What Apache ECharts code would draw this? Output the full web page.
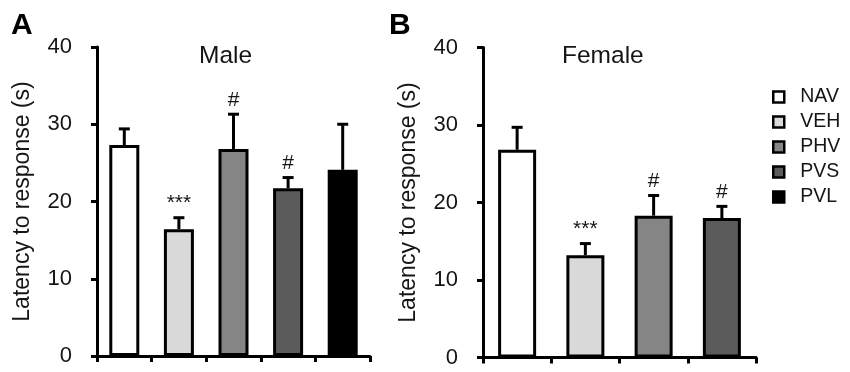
<!DOCTYPE html>
<html>
<head>
<meta charset="utf-8">
<script src="https://cdn.jsdelivr.net/npm/echarts@6/dist/echarts.min.js"></script>
<style>
html,body{margin:0;padding:0;background:#fff;}
#chart{width:850px;height:372px;}
</style>
</head>
<body>
<div id="chart"></div>
<script>
// ---- data ----
const groups = ['NAV', 'VEH', 'PHV', 'PVS', 'PVL'];
const maleCategories = ['NAV', 'VEH', 'PHV', 'PVS', 'PVL'];
const maleMean = [27.3, 16.4, 26.8, 21.7, 24.1];
const maleSem = [2.1, 1.5, 4.5, 1.4, 5.9];
const maleMarks = ['', '***', '#', '#', ''];
const femaleCategories = ['NAV', 'VEH', 'PHV', 'PVS'];
const femaleMean = [26.8, 13.2, 18.3, 18.0];
const femaleSem = [2.9, 1.5, 2.6, 1.5];
const femaleMarks = ['', '***', '#', '#'];
const yMin = 0, yMax = 40, yStep = 10;
const panelTitles = ['Male', 'Female'];
const panelLetters = ['A', 'B'];
const yName = 'Latency to response (s)';

// ---- style ----
const palette = {NAV: '#ffffff', VEH: '#d9d9d9', PHV: '#858585', PVS: '#5b5b5b', PVL: '#000000'};
const FONT = '"Liberation Sans", Arial, sans-serif';
const TXT = '#151515';

const chart = echarts.init(document.getElementById('chart'), null, {renderer: 'canvas'});

const panels = [
  {cats: maleCategories, mean: maleMean, sem: maleSem, marks: maleMarks, barWidth: 30},
  {cats: femaleCategories, mean: femaleMean, sem: femaleSem, marks: femaleMarks, barWidth: 38}
];

const grids = [
  {left: 97, top: 47, width: 273, height: 309},
  {left: 483, top: 47.5, width: 273, height: 310}
];

const xAxes = panels.map((p, i) => ({
  type: 'category', gridIndex: i, data: p.cats,
  axisLine: {lineStyle: {color: '#000', width: 3}},
  axisTick: {show: true, length: 6, lineStyle: {color: '#000', width: 3}},
  axisLabel: {show: false},
  splitLine: {show: false}
}));

const yAxes = panels.map((p, i) => ({
  type: 'value', gridIndex: i, min: yMin, max: yMax, interval: yStep,
  name: yName, nameLocation: 'middle', nameGap: 63,
  nameTextStyle: {fontFamily: FONT, fontSize: 23, color: TXT},
  axisLine: {show: true, lineStyle: {color: '#000', width: 3}},
  axisTick: {show: true, length: 6, lineStyle: {color: '#000', width: 3}},
  axisLabel: {fontFamily: FONT, fontSize: 22, color: TXT, margin: 25},
  splitLine: {show: false}
}));

const series = [];
panels.forEach((p, pi) => {
  p.cats.forEach((g, gi) => {
    series.push({
      type: 'bar', name: g, xAxisIndex: pi, yAxisIndex: pi,
      data: p.cats.map((c, i) => i === gi ? p.mean[i] : '-'),
      barWidth: p.barWidth, barGap: '-100%',
      itemStyle: {color: palette[g], borderColor: '#000', borderWidth: 3},
      emphasis: {disabled: true},
      z: 2
    });
  });
  series.push({
    type: 'custom', name: 'err' + pi, xAxisIndex: pi, yAxisIndex: pi,
    data: p.cats.map((c, i) => [i, p.mean[i], p.mean[i] + p.sem[i], p.marks[i]]),
    encode: {x: 0, y: [1, 2]},
    z: 3,
    renderItem: function (params, api) {
      const i = api.value(0);
      const lo = api.coord([i, api.value(1)]);
      const hi = api.coord([i, api.value(2)]);
      const mark = p.marks[i];
      const capHalf = 5.5;
      const children = [
        {type: 'line', shape: {x1: lo[0], y1: lo[1], x2: hi[0], y2: hi[1]}, style: {stroke: '#000', lineWidth: 3}},
        {type: 'line', shape: {x1: hi[0] - capHalf, y1: hi[1], x2: hi[0] + capHalf, y2: hi[1]}, style: {stroke: '#000', lineWidth: 3}}
      ];
      if (mark) {
        children.push({type: 'text', style: {text: mark, x: hi[0], y: hi[1] - 4, align: 'center', verticalAlign: 'bottom',
          font: '21px ' + FONT, fill: TXT}});
      }
      return {type: 'group', children: children};
    }
  });
});

const option = {
  backgroundColor: '#fff',
  animation: false,
  title: [
    {text: panelLetters[0], left: 11, top: 11, padding: 0, textStyle: {fontFamily: FONT, fontSize: 30, fontWeight: 'bold', color: '#000'}},
    {text: panelLetters[1], left: 389, top: 11, padding: 0, textStyle: {fontFamily: FONT, fontSize: 30, fontWeight: 'bold', color: '#000'}},
    {text: panelTitles[0], left: 199, top: 44, padding: 0, textStyle: {fontFamily: FONT, fontSize: 24.5, fontWeight: 'normal', color: TXT}},
    {text: panelTitles[1], left: 562, top: 44, padding: 0, textStyle: {fontFamily: FONT, fontSize: 24.5, fontWeight: 'normal', color: TXT}}
  ],
  legend: {
    data: groups, orient: 'vertical', left: 772, top: 87, padding: 0,
    icon: 'rect', itemWidth: 11, itemHeight: 11, itemGap: 5,
    itemStyle: {borderColor: '#000', borderWidth: 2.5},
    textStyle: {fontFamily: FONT, fontSize: 19.5, color: TXT, padding: [0, 0, 0, 11]},
    selectedMode: false
  },
  grid: grids,
  xAxis: xAxes,
  yAxis: yAxes,
  series: series
};
chart.setOption(option);
</script>
</body>
</html>
